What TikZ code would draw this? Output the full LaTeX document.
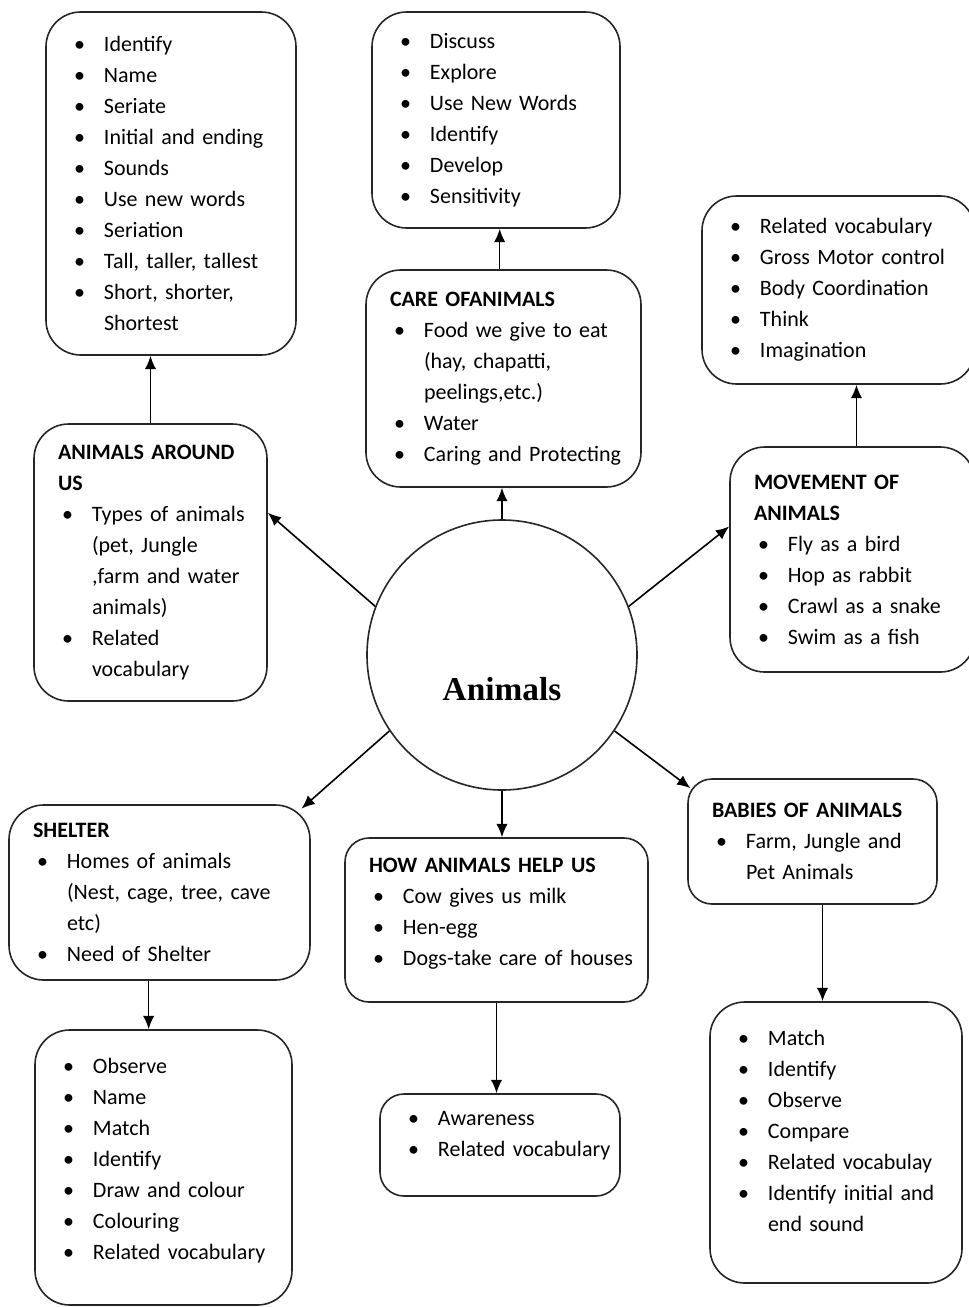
\documentclass[tikz,border=0pt]{standalone}
\usepackage{fontspec}
\setmainfont{Carlito}
\newfontfamily\hubfont{Liberation Serif}
\usetikzlibrary{arrows.meta}

\newcommand{\head}[1]{\noindent\mbox{\bfseries #1}\par}
\newcommand{\bul}[1]{\noindent\makebox[25.5pt][l]{\hspace{3pt}\textbullet}\mbox{#1}\par}
\newcommand{\cont}[1]{\noindent\hspace*{25.5pt}\mbox{#1}\par}

\tikzset{every picture/.style={line width=0.75pt}}
\tikzset{
  topicbox/.style={draw=black!85, line width=1.2pt, rounded corners=26pt, inner xsep=18pt, inner ysep=0pt, align=left, font=\fontsize{16.5}{23.25}\selectfont},
  smallbox/.style={topicbox, rounded corners=18pt},
  hub/.style={draw=black!85, line width=1.2pt, circle, minimum size=202.5pt, inner sep=0pt},
  arr/.style={-{Latex[length=10pt,width=8.5pt]}, line width=1.2pt}
}

\begin{document}
\begin{tikzpicture}[x=0.75pt,y=0.75pt,yscale=-1,xscale=1]
\useasboundingbox (0,0) rectangle (969,1307);

%Shape: Circle
\node[hub] (circ) at (502,655) {};
% Text Node
\node[font=\hubfont\bfseries\fontsize{25}{30}\selectfont, anchor=base] (hubtxt) at (502,700) {Animals};

%Rounded Rect
\node[topicbox, text width=151.5pt, minimum height=257.25pt] (A) at (171,183.5) {\bul{Identify}\bul{Name}\bul{Seriate}\bul{Initial and ending}\bul{Sounds}\bul{Use new words}\bul{Seriation}\bul{Tall, taller, tallest}\bul{Short, shorter,}\cont{Shortest}};
%Rounded Rect
\node[topicbox, text width=150pt, minimum height=162pt] (B) at (496,120) {\bul{Discuss}\bul{Explore}\bul{Use New Words}\bul{Identify}\bul{Develop}\bul{Sensitivity}};
%Rounded Rect
\node[topicbox, text width=170.25pt, minimum height=162.75pt] (C) at (503.5,378.5) {\head{CARE OFANIMALS}\bul{Food we give to eat}\cont{(hay, chapatti,}\cont{peelings,etc.)}\bul{Water}\bul{Caring and Protecting}};
%Rounded Rect
\node[topicbox, text width=168.75pt, minimum height=141pt] (D) at (838.5,290) {\bul{Related vocabulary}\bul{Gross Motor control}\bul{Body Coordination}\bul{Think}\bul{Imagination}};
%Rounded Rect
\node[topicbox, text width=147.75pt, minimum height=168.75pt] (E) at (852.5,559.5) {\head{MOVEMENT OF}\head{ANIMALS}\bul{Fly as a bird}\bul{Hop as rabbit}\bul{Crawl as a snake}\bul{Swim as a fish}};
%Rounded Rect
\node[topicbox, text width=138.75pt, minimum height=207.75pt] (F) at (150.5,562.5) {\head{ANIMALS AROUND}\head{US}\bul{Types of animals}\cont{(pet, Jungle}\cont{,farm and water}\cont{animals)}\bul{Related}\cont{vocabulary}};
%Rounded Rect
\node[topicbox, text width=189.75pt, minimum height=131.25pt] (G) at (159.5,892.5) {\head{SHELTER}\bul{Homes of animals}\cont{(Nest, cage, tree, cave}\cont{etc)}\bul{Need of Shelter}};
%Rounded Rect
\node[smallbox, text width=191.25pt, minimum height=123pt] (H) at (496.5,920) {\head{HOW ANIMALS HELP US}\bul{Cow gives us milk}\bul{Hen-egg}\bul{Dogs-take care of houses}\kern9pt};
%Rounded Rect
\node[smallbox, text width=150.75pt, minimum height=93.75pt] (I) at (812.5,841.5) {\head{BABIES OF ANIMALS}\bul{Farm, Jungle and}\cont{Pet Animals}};
%Rounded Rect
\node[topicbox, text width=156.75pt, minimum height=206.25pt] (J) at (163.5,1167.5) {\bul{Observe}\bul{Name}\bul{Match}\bul{Identify}\bul{Draw and colour}\bul{Colouring}\bul{Related vocabulary}\kern9.75pt};
%Rounded Rect
\node[smallbox, text width=144pt, minimum height=76.5pt] (K) at (500,1145) {\bul{Awareness}\bul{Related vocabulary}\kern13.5pt};
%Rounded Rect
\node[topicbox, text width=153pt, minimum height=210.75pt] (L) at (836,1142.5) {\bul{Match}\bul{Identify}\bul{Observe}\bul{Compare}\bul{Related vocabulay}\bul{Identify initial and}\cont{end sound}\kern17.25pt};

%Straight Lines
\draw[arr] (F.north) -- (F.north |- A.south);
\draw[arr] (C.92) -- (C.92 |- B.south);
\draw[arr] (circ.north) -- (circ.north |- C.south);
\draw[arr] (E.88) -- (E.88 |- D.south);
\draw[arr] (circ.south) -- (circ.south |- H.north);
\draw[arr] (G.-97.5) -- (G.-97.5 |- J.north);
\draw[arr] (H.south) -- (H.south |- K.north);
\draw[arr] (I.-81.4) -- (I.-81.4 |- L.north);
%Straight Lines
\draw[arr] (circ.159) -- (F.23);
\draw[arr] (circ.21) -- (E.165);
\draw[arr, shorten >=-5pt] (circ.214) -- (G.31);
\draw[arr, shorten >=-3pt] (circ.-34) -- (I.156);

\end{tikzpicture}
\end{document}
